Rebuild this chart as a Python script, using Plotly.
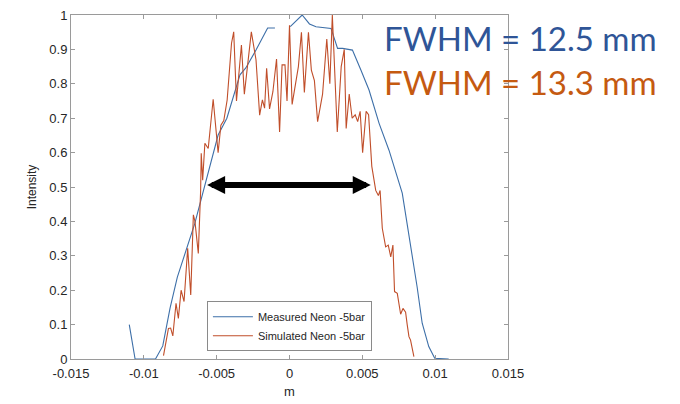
import plotly.graph_objects as go

# Measured Neon -5bar (None = gap in the measured curve)
meas_x = [-0.0110, -0.0106, -0.0092, -0.0087, -0.0082, -0.0077, -0.0065, -0.0058, -0.0049,
          -0.0043, -0.0034, -0.0030, -0.0023, -0.0015, -0.0010, None, 0.00005, 0.00087,
          0.00137, 0.00182, 0.00285, 0.00330, 0.00364, 0.00432, 0.0049, 0.00546, 0.00615,
          0.00683, 0.00774, 0.00808, 0.00842, 0.00876, 0.00911, 0.00956, 0.00997, 0.01093]
meas_y = [0.10, 0.0, 0.0, 0.038, 0.148, 0.238, 0.394, 0.505, 0.651,
          0.70, 0.826, 0.846, 0.898, 0.962, 0.962, None, 0.966, 1.0,
          0.974, 0.966, 0.961, 0.903, 0.903, 0.898, 0.84, 0.782, 0.685,
          0.607, 0.482, 0.394, 0.307, 0.210, 0.104, 0.036, 0.002, 0.0]

# Simulated Neon -5bar
sim_x = [-0.00865, -0.00831, -0.00816, -0.00801, -0.00779, -0.00763, -0.00744, -0.00724,
         -0.00699, -0.00678, -0.00660, -0.00649, -0.00626, -0.00610, -0.00606, -0.00596,
         -0.00581, -0.00558, -0.00524, -0.00490, -0.00471, -0.00451, -0.00428, -0.00398,
         -0.00383, -0.00364, -0.00330, -0.00310, -0.00262, -0.00230, -0.00205, -0.00186,
         -0.00171, -0.00157, -0.00137, -0.00114, -0.00089, -0.00068, -0.00051, -0.00031,
         -0.00017, 0.0, 0.00018, 0.00046, 0.00061, 0.00082, 0.00102, 0.00130, 0.00150,
         0.00171, 0.00193, 0.00227, 0.00256, 0.00277, 0.00294, 0.00328, 0.00355, 0.00376,
         0.00389, 0.00410, 0.00430, 0.00451, 0.00468, 0.00485, 0.00502, 0.00526, 0.00543,
         0.00565, 0.00592, 0.00610, 0.00622, 0.00637, 0.00649, 0.00660, 0.00678, 0.00695,
         0.00710, 0.00721, 0.00740, 0.00751, 0.00763, 0.00779, 0.00797, 0.00808, 0.00820,
         0.00831, 0.00854]
sim_y = [0.01, 0.089, 0.09, 0.067, 0.162, 0.118, 0.20, 0.167,
         0.322, 0.186, 0.419, 0.40, 0.307, 0.49, 0.598, 0.52,
         0.627, 0.612, 0.755, 0.60, 0.68, 0.693, 0.753, 0.918,
         0.951, 0.75, 0.913, 0.77, 0.951, 0.87, 0.709, 0.753,
         0.729, 0.845, 0.727, 0.777, 0.872, 0.66, 0.855, 0.855,
         0.75, 0.97, 0.74, 0.805, 0.85, 0.95, 0.775, 0.95, 0.84,
         0.809, 0.69, 0.77, 0.93, 0.80, 1.0, 0.66, 0.85, 0.90,
         0.67, 0.77, 0.70, 0.71, 0.69, 0.72, 0.60, 0.72, 0.71,
         0.56, 0.49, 0.475, 0.49, 0.38, 0.356, 0.326, 0.331, 0.297,
         0.331, 0.196, 0.191, 0.162, 0.13, 0.147, 0.136, 0.10, 0.065,
         0.055, 0.007]

x_ticks = [-0.015, -0.01, -0.005, 0, 0.005, 0.01, 0.015]
x_tick_labels = ["-0.015", "-0.01", "-0.005", "0", "0.005", "0.01", "0.015"]
y_ticks = [0, 0.1, 0.2, 0.3, 0.4, 0.5, 0.6, 0.7, 0.8, 0.9, 1]
y_tick_labels = ["0", "0.1", "0.2", "0.3", "0.4", "0.5", "0.6", "0.7", "0.8", "0.9", "1"]

fwhm_arrow = [-0.00576, 0.00558]
fwhm_level = 0.506
fwhm_texts = ["FWHM = 12.5 mm", "FWHM = 13.3 mm"]

blue = "#3d6fa8"
orange = "#c04e2a"

fig = go.Figure()
fig.add_trace(go.Scatter(x=meas_x, y=meas_y, mode="lines", name="Measured Neon -5bar",
                         line=dict(color=blue, width=1.1), connectgaps=False))
fig.add_trace(go.Scatter(x=sim_x, y=sim_y, mode="lines", name="Simulated Neon -5bar",
                         line=dict(color=orange, width=1.1)))

axis_common = dict(showgrid=False, zeroline=False, showline=True, linecolor="#9a9a9a",
                   linewidth=1, mirror="ticks", ticks="inside", ticklen=4, automargin=False,
                   tickcolor="#9a9a9a", tickfont=dict(family="Liberation Sans", size=13, color="#262626"))

fig.update_layout(
    width=680, height=404,
    margin=dict(l=71, r=172, t=15, b=45),
    paper_bgcolor="white", plot_bgcolor="white",
    xaxis=dict(range=[-0.015, 0.015], tickvals=x_ticks, ticktext=x_tick_labels,
               ticklabelstandoff=2,
               title=dict(text="m", font=dict(family="Liberation Sans", size=13, color="#262626"), standoff=7),
               **axis_common),
    yaxis=dict(range=[0, 1], tickvals=y_ticks, ticktext=y_tick_labels,
               title=dict(text="Intensity", font=dict(family="Liberation Sans", size=12, color="#262626"), standoff=10),
               **axis_common),
    legend=dict(x=0.311, y=0.168, xanchor="left", yanchor="top",
                bgcolor="white", bordercolor="#8a8a8a", borderwidth=1,
                font=dict(family="Liberation Sans", size=11, color="#262626"),
                itemwidth=40, tracegroupgap=0),
    showlegend=True,
)

fig.add_annotation(x=fwhm_arrow[1], y=fwhm_level, ax=fwhm_arrow[0], ay=fwhm_level,
                   xref="x", yref="y", axref="x", ayref="y", text="",
                   showarrow=True, arrowhead=2, arrowside="end+start",
                   arrowwidth=6, arrowsize=0.6, arrowcolor="black")

fig.add_annotation(x=0.712, y=0.933, xref="paper", yref="paper", xanchor="left", yanchor="middle",
                   text=fwhm_texts[0], showarrow=False,
                   font=dict(family="Lato", size=33, color="#2f5597"))
fig.add_annotation(x=0.712, y=0.806, xref="paper", yref="paper", xanchor="left", yanchor="middle",
                   text=fwhm_texts[1], showarrow=False,
                   font=dict(family="Lato", size=33, color="#c55a11"))

fig.write_html("out.html")
